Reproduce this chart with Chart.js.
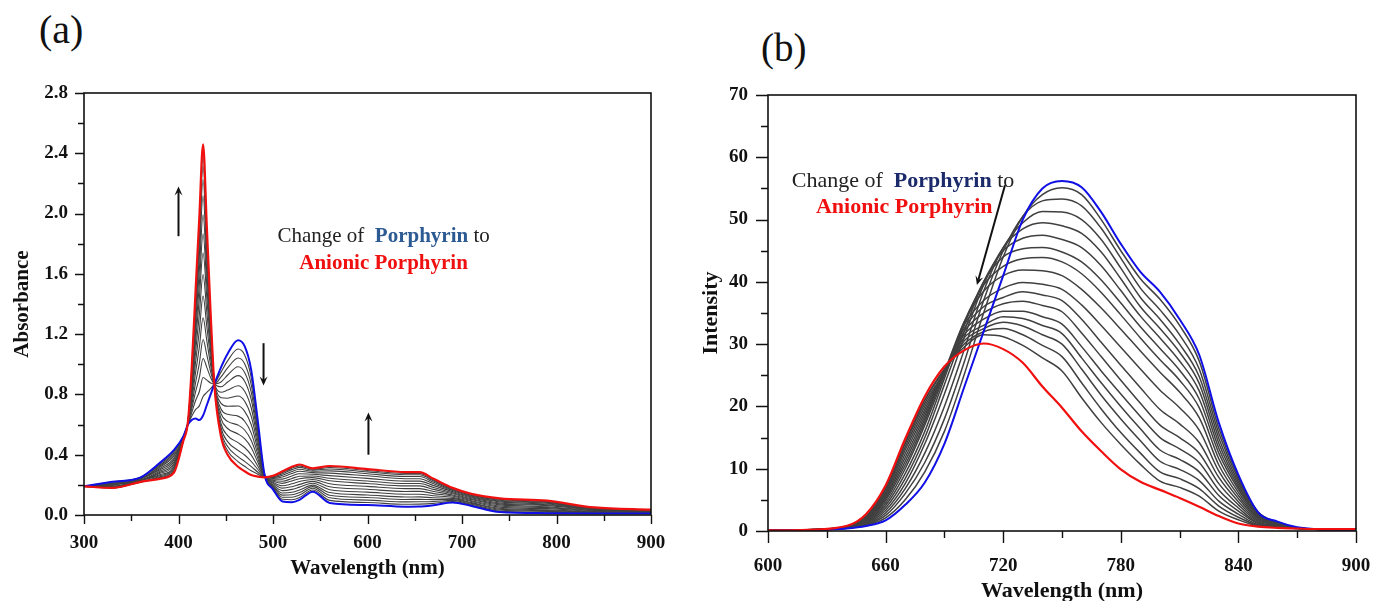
<!DOCTYPE html>
<html>
<head>
<meta charset="utf-8">
<script src="https://cdn.jsdelivr.net/npm/chart.js@4.4.0/dist/chart.umd.min.js"></script>
<style>
  html, body { margin: 0; padding: 0; background: #fff; }
  body { width: 1374px; height: 601px; position: relative; overflow: hidden; }
  .panel { position: absolute; }
  #boxA { left: 0; top: 70px; width: 680px; height: 531px; }
  #boxB { left: 690px; top: 70px; width: 684px; height: 535px; }
  .tag { position: absolute; font-family: "Liberation Serif", serif; color: #111; line-height: 1; }
</style>
</head>
<body>
<div class="tag" style="left:39px;top:10px;font-size:40px">(a)</div>
<div class="tag" style="left:761px;top:28px;font-size:39px">(b)</div>
<div class="panel" id="boxA"><canvas id="chartA"></canvas></div>
<div class="panel" id="boxB"><canvas id="chartB"></canvas></div>
<script>
// ---- panel (a): absorbance titration ----
const wlA = [300,330,360,380,395,405,410,414,418,422,426,430,434,438,445,452,463,470,477,484,491,500,510,520,528,542,560,600,640,655,670,690,710,740,790,840,900];
const porphyrinA = [.19,.22,.25,.345,.43,.52,.60,.63,.64,.63,.66,.73,.80,.87,.98,1.07,1.16,1.12,.96,.62,.27,.17,.09,.085,.10,.155,.08,.066,.055,.056,.065,.083,.06,.02,.012,.01,.01];
const anionicA = [.19,.18,.22,.24,.28,.49,.62,.98,1.48,1.97,2.46,1.91,1.34,.86,.52,.40,.32,.29,.265,.255,.25,.26,.29,.32,.335,.31,.325,.305,.285,.285,.24,.18,.14,.11,.095,.05,.035];
const stepsA = [
  [.19,.22,.25,.338,.42,.52,.60,.655,.699,.724,.786,.813,.838,.87,.948,1.023,1.101,1.062,.911,.594,.269,.176,.104,.101,.116,.166,.097,.083,.071,.072,.077,.09,.066,.026,.018,.013,.012],
  [.19,.21,.25,.33,.41,.52,.60,.679,.758,.818,.912,.895,.876,.87,.916,.976,1.042,1.004,.863,.569,.268,.183,.118,.118,.133,.177,.114,.099,.087,.088,.09,.097,.071,.033,.024,.016,.014],
  [.19,.21,.24,.323,.40,.51,.60,.704,.816,.911,1.038,.978,.913,.87,.883,.929,.984,.946,.814,.543,.266,.189,.132,.134,.149,.188,.131,.116,.103,.104,.102,.103,.077,.039,.029,.018,.015],
  [.19,.21,.24,.316,.39,.51,.61,.728,.875,1.005,1.164,1.06,.951,.87,.851,.882,.925,.888,.765,.518,.264,.195,.146,.151,.166,.198,.149,.133,.119,.12,.114,.11,.082,.045,.035,.021,.017],
  [.19,.21,.24,.307,.376,.51,.61,.756,.942,1.112,1.308,1.155,.994,.87,.814,.829,.858,.821,.71,.489,.263,.202,.162,.17,.185,.211,.168,.152,.138,.138,.128,.118,.089,.052,.042,.024,.019],
  [.19,.20,.24,.299,.364,.51,.61,.784,1.01,1.22,1.452,1.249,1.038,.87,.778,.775,.79,.755,.654,.459,.261,.21,.178,.188,.203,.223,.188,.171,.156,.157,.142,.126,.095,.06,.049,.028,.021],
  [.19,.20,.23,.29,.352,.50,.61,.812,1.077,1.327,1.596,1.344,1.081,.86,.741,.722,.723,.688,.599,.43,.26,.217,.194,.207,.222,.236,.207,.19,.175,.175,.156,.133,.102,.067,.055,.031,.023],
  [.19,.20,.23,.282,.34,.50,.61,.84,1.144,1.434,1.74,1.438,1.124,.86,.704,.668,.656,.622,.543,.401,.258,.224,.21,.226,.241,.248,.227,.209,.193,.193,.17,.141,.108,.074,.062,.034,.025],
  [.19,.19,.23,.275,.33,.50,.61,.865,1.203,1.528,1.866,1.521,1.162,.86,.672,.621,.597,.564,.494,.375,.257,.23,.224,.242,.257,.259,.244,.226,.209,.209,.182,.148,.114,.08,.068,.037,.027],
  [.19,.19,.23,.267,.319,.50,.61,.889,1.262,1.622,1.992,1.603,1.20,.86,.64,.574,.538,.506,.446,.35,.255,.237,.238,.259,.274,.27,.261,.243,.225,.225,.195,.155,.119,.087,.073,.04,.029],
  [.19,.19,.23,.26,.309,.50,.62,.914,1.32,1.715,2.118,1.686,1.237,.86,.607,.527,.48,.448,.397,.324,.254,.243,.252,.275,.29,.281,.278,.26,.241,.241,.207,.162,.125,.093,.079,.042,.03],
  [.19,.19,.22,.254,.30,.49,.62,.935,1.371,1.796,2.226,1.757,1.27,.86,.58,.487,.429,.398,.355,.302,.253,.248,.264,.289,.304,.29,.293,.274,.255,.255,.217,.167,.13,.098,.084,.045,.032],
  [.19,.18,.22,.248,.292,.49,.62,.952,1.413,1.863,2.316,1.816,1.297,.86,.557,.454,.387,.356,.321,.284,.252,.253,.274,.301,.316,.298,.305,.286,.267,.267,.226,.172,.134,.103,.088,.047,.033],
  [.19,.18,.22,.244,.286,.49,.62,.966,1.446,1.916,2.388,1.863,1.318,.86,.538,.427,.354,.323,.293,.27,.251,.256,.282,.311,.326,.304,.315,.295,.276,.276,.233,.176,.137,.106,.092,.048,.034]
];

// ---- panel (b): emission titration ----
const wlB = [600,620,640,650,660,670,680,690,700,710,720,730,740,750,760,770,780,790,800,810,820,830,840,850,860,870,880,900];
const porphyrinB = [0.1,0.15,0.4,0.8,1.7,4.2,7.8,14,23,32,41,50,55,56.2,55.2,51.2,46.1,41.6,38.4,34,28.3,17.4,9,3,1.5,0.6,0.3,0.2];
const anionicB = [0.1,0.2,0.8,2.7,7.3,14.8,21.6,26.4,29,30.1,29.2,27,23.2,19.8,16,12.8,9.9,7.9,6.6,5.3,3.9,2.4,1.2,0.7,0.5,0.4,0.3,0.3];
const stepsB = [
  [0.1,0.16,0.42,0.9,2.1,5,9.5,16,25,35,44,50.5,54,55.1,54,50,45,40.5,37.2,33,27.3,16.5,8.7,3.1,1.4,0.5,0.3,0.2],
  [0.1,0.16,0.45,1.0,2.5,6,11,18,27,37,45,50.5,53,53.3,52.2,48.6,43.8,39,35.5,31.5,26,15.7,8.3,3.0,1.4,0.5,0.3,0.2],
  [0.1,0.17,0.47,1.1,2.9,6.8,12.5,20,29,38.5,45.5,49.5,51.3,51.2,50,46.8,42.2,37.5,34,30,24.8,14.9,7.9,2.9,1.3,0.5,0.3,0.2],
  [0.1,0.17,0.5,1.2,3.3,7.6,14,22,31,39.5,45.5,48.5,49.5,49,47.8,44.8,40.5,36,32.5,28.7,23.7,14.1,7.5,2.8,1.3,0.5,0.3,0.2],
  [0.1,0.17,0.52,1.3,3.7,8.4,15,23.5,32,40,45,47,47.5,46.8,45.5,42.6,38.6,34.5,31,27.3,22.5,13.3,7.1,2.6,1.2,0.5,0.3,0.2],
  [0.1,0.17,0.55,1.4,4.1,9.2,16,24.5,33,40,44,45.3,45.5,44.8,43.2,40.3,36.6,32.8,29.3,25.8,21.2,12.5,6.7,2.5,1.2,0.5,0.3,0.2],
  [0.1,0.17,0.57,1.5,4.5,10,17,25,33.5,39.5,42.5,43.7,43.9,43.2,41.3,38.3,34.7,31,27.5,24.2,19.8,11.6,6.2,2.3,1.1,0.5,0.3,0.2],
  [0.1,0.18,0.6,1.6,4.9,10.6,17.5,25.5,33.5,38.5,41,41.9,41.8,41,38.8,35.8,32.4,28.9,25.5,22.3,18.2,10.6,5.7,2.1,1.0,0.5,0.3,0.2],
  [0.1,0.18,0.62,1.7,5.2,11.2,18,25.5,33,37,39,39.9,39.6,38.8,36.3,33,29.5,26,22.6,19.8,16.2,9.6,5.2,1.9,1.0,0.5,0.3,0.2],
  [0.1,0.18,0.64,1.8,5.5,11.8,18.5,25.5,32.5,36,37.5,38.4,37.9,37,34,30.3,26.6,23,19.5,17.2,14.2,8.6,4.7,1.7,0.9,0.5,0.3,0.2],
  [0.1,0.19,0.66,1.9,5.8,12.4,19,25.5,32,35,36.5,36.9,36.2,35.2,31.8,28,24.2,20.5,17,15,12.5,7.6,4.2,1.5,0.8,0.45,0.3,0.25],
  [0.1,0.19,0.68,2.0,6.1,13,19.5,25.5,31.5,34,35.3,35.3,34.4,33.2,29.6,25.7,22,18.4,15,13.2,11,6.6,3.7,1.3,0.8,0.45,0.3,0.25],
  [0.1,0.19,0.7,2.1,6.4,13.5,20,25.5,31,33,34.4,34.1,33,31.7,27.8,23.8,20,16.4,13,11.5,9.5,5.7,3.2,1.2,0.7,0.45,0.3,0.25],
  [0.1,0.2,0.72,2.2,6.7,14,20.5,25.5,30.5,32.5,33.5,32.9,31.5,30,26,21.8,18,14.5,11.2,9.9,8.1,4.8,2.7,1.0,0.7,0.4,0.3,0.25],
  [0.1,0.2,0.74,2.3,6.9,14.3,21,25.8,30,32,32.5,31.5,29.8,28,23.8,19.6,15.8,12.5,9.5,8.4,6.8,4.0,2.2,0.9,0.6,0.4,0.3,0.25],
  [0.1,0.2,0.76,2.4,7.0,14.5,21,26,29.5,31.5,31.2,29.8,27.8,25.7,21.4,17.4,13.9,10.7,8.0,7.0,5.6,3.2,1.8,0.8,0.6,0.4,0.3,0.25]
];

const SERIF = '"Liberation Serif", "Times New Roman", serif';
const INK = '#111';
const GRAY = '#404040';
const BLUE = '#1010e6';
const RED = '#f01010';

const toPts = (xs, ys) => xs.map((x, i) => ({ x, y: ys[i] }));

function lineSet(xs, ys, color, width) {
  return {
    data: toPts(xs, ys),
    borderColor: color,
    borderWidth: width,
    pointRadius: 0,
    fill: false,
    cubicInterpolationMode: 'monotone'
  };
}

// red on top, then blue, then the gray titration steps underneath
function buildDatasets(xs, blue, red, steps, grayWidth) {
  return [
    lineSet(xs, red, RED, 2.2),
    lineSet(xs, blue, BLUE, 2),
    ...steps.map(s => lineSet(xs, s, GRAY, grayWidth))
  ];
}

function drawArrow(ctx, x1, y1, x2, y2) {
  const ang = Math.atan2(y2 - y1, x2 - x1);
  const head = 9, half = 4;
  const c = Math.cos(ang), s = Math.sin(ang);
  ctx.beginPath();
  ctx.moveTo(x1, y1);
  ctx.lineTo(x2 - c * head * 0.6, y2 - s * head * 0.6);
  ctx.stroke();
  ctx.beginPath();
  ctx.moveTo(x2, y2);
  ctx.lineTo(x2 - c * head + s * half, y2 - s * head - c * half);
  ctx.lineTo(x2 - c * head * 0.6, y2 - s * head * 0.6);
  ctx.lineTo(x2 - c * head - s * half, y2 - s * head + c * half);
  ctx.closePath();
  ctx.fill();
}

function axisFrame(majorLen, minorLen) {
  return {
    id: 'axisFrame',
    afterDatasetsDraw(chart) {
      const { ctx, chartArea: a, scales } = chart;
      ctx.save();
      ctx.strokeStyle = INK;
      ctx.lineWidth = 1.6;
      ctx.strokeRect(a.left, a.top, a.right - a.left, a.bottom - a.top);
      ctx.lineWidth = 1.4;
      ctx.beginPath();
      scales.x.ticks.forEach(t => {
        const px = Math.round(scales.x.getPixelForValue(t.value)) + 0.5;
        const len = t.label !== '' ? majorLen : minorLen;
        ctx.moveTo(px, a.bottom);
        ctx.lineTo(px, a.bottom + len);
      });
      scales.y.ticks.forEach(t => {
        const py = Math.round(scales.y.getPixelForValue(t.value)) + 0.5;
        const len = t.label !== '' ? majorLen : minorLen;
        ctx.moveTo(a.left, py);
        ctx.lineTo(a.left - len, py);
      });
      ctx.stroke();
      ctx.restore();
    }
  };
}

function notes(lines, arrows, size) {
  return {
    id: 'notes',
    afterDatasetsDraw(chart) {
      const { ctx, scales: { x, y } } = chart;
      ctx.save();
      ctx.strokeStyle = INK;
      ctx.fillStyle = INK;
      ctx.lineWidth = 2;
      arrows.forEach(([x1, y1, x2, y2]) => {
        drawArrow(ctx, x.getPixelForValue(x1), y.getPixelForValue(y1), x.getPixelForValue(x2), y.getPixelForValue(y2));
      });
      ctx.textBaseline = 'middle';
      lines.forEach(line => {
        const parts = line.parts.map(p => {
          const font = `${p.bold ? 'bold ' : ''}${size}px ${SERIF}`;
          ctx.font = font;
          return { ...p, font, w: ctx.measureText(p.text).width };
        });
        const total = parts.reduce((s, p) => s + p.w, 0);
        let cx = x.getPixelForValue(line.x) - total / 2;
        const cy = y.getPixelForValue(line.y);
        parts.forEach(p => {
          ctx.font = p.font;
          ctx.fillStyle = p.color;
          ctx.fillText(p.text, cx, cy);
          cx += p.w;
        });
      });
      ctx.restore();
    }
  };
}

function spectrumOptions(cfg) {
  const tickFont = { family: SERIF, weight: 'bold', size: 19 };
  const titleFont = { family: SERIF, weight: 'bold', size: cfg.titleSize };
  return {
    responsive: true,
    maintainAspectRatio: false,
    animation: false,
    events: [],
    layout: { padding: cfg.padding },
    plugins: { legend: { display: false }, tooltip: { enabled: false } },
    scales: {
      x: {
        type: 'linear',
        min: cfg.xMin, max: cfg.xMax,
        border: { display: false },
        grid: { display: false },
        ticks: {
          stepSize: cfg.xStep, autoSkip: false, maxRotation: 0, padding: cfg.xPad,
          font: tickFont, color: INK,
          callback: v => (Math.abs(v % cfg.xLabelEvery) < 1e-6 ? String(v) : '')
        },
        title: { display: true, text: 'Wavelength (nm)', font: titleFont, color: INK, padding: { top: 0, bottom: 0 } },
        afterFit: s => { s.height = cfg.xHeight; s.paddingLeft = 0; s.paddingRight = 0; }
      },
      y: {
        min: cfg.yMin, max: cfg.yMax,
        border: { display: false },
        grid: { display: false },
        ticks: {
          stepSize: cfg.yStep, autoSkip: false, padding: cfg.yPad,
          font: tickFont, color: INK,
          callback: v => {
            const r = v / cfg.yLabelEvery;
            return Math.abs(r - Math.round(r)) < 1e-6 ? v.toFixed(cfg.yDigits) : '';
          }
        },
        title: { display: true, text: cfg.yTitle, font: titleFont, color: INK, padding: { top: cfg.yTitlePad, bottom: 0 } },
        afterFit: s => { s.width = cfg.yWidth; s.paddingTop = 0; s.paddingBottom = 0; }
      }
    }
  };
}

new Chart(document.getElementById('chartA'), {
  type: 'line',
  data: { datasets: buildDatasets(wlA, porphyrinA, anionicA, stepsA, 1.1) },
  options: spectrumOptions({
    padding: { left: 0, right: 29, top: 23, bottom: 20 },
    xMin: 300, xMax: 900, xStep: 50, xLabelEvery: 100, xPad: 9, xHeight: 66,
    yMin: 0, yMax: 2.8, yStep: 0.2, yLabelEvery: 0.4, yDigits: 1, yPad: 8, yWidth: 84,
    yTitle: 'Absorbance', titleSize: 21, yTitlePad: 10
  }),
  plugins: [
    axisFrame(9, 6),
    notes([
      { x: 617, y: 1.85, parts: [
        { text: 'Change of  ', color: '#222' },
        { text: 'Porphyrin', color: '#2c5a93', bold: true },
        { text: ' to', color: '#222' }
      ] },
      { x: 617, y: 1.67, parts: [{ text: 'Anionic Porphyrin', color: '#f01010', bold: true }] }
    ], [
      [400, 1.85, 400, 2.18],
      [490, 1.14, 490, 0.86],
      [601, 0.40, 601, 0.68]
    ], 21)
  ]
});

new Chart(document.getElementById('chartB'), {
  type: 'line',
  data: { datasets: buildDatasets(wlB, porphyrinB, anionicB, stepsB, 1.5) },
  options: spectrumOptions({
    padding: { left: 0, right: 18, top: 25, bottom: 0 },
    xMin: 600, xMax: 900, xStep: 30, xLabelEvery: 60, xPad: 16, xHeight: 74,
    yMin: 0, yMax: 70, yStep: 5, yLabelEvery: 10, yDigits: 0, yPad: 12, yWidth: 78,
    yTitle: 'Intensity', titleSize: 22, yTitlePad: 8
  }),
  plugins: [
    axisFrame(12, 7),
    notes([
      { x: 668.9, y: 56.2, parts: [
        { text: 'Change of  ', color: '#222' },
        { text: 'Porphyrin', color: '#1b2a6b', bold: true },
        { text: ' to', color: '#222' }
      ] },
      { x: 669.5, y: 52, parts: [{ text: 'Anionic Porphyrin', color: '#f01010', bold: true }] }
    ], [
      [720.9, 55.5, 706.6, 39.5]
    ], 22)
  ]
});
</script>
</body>
</html>
